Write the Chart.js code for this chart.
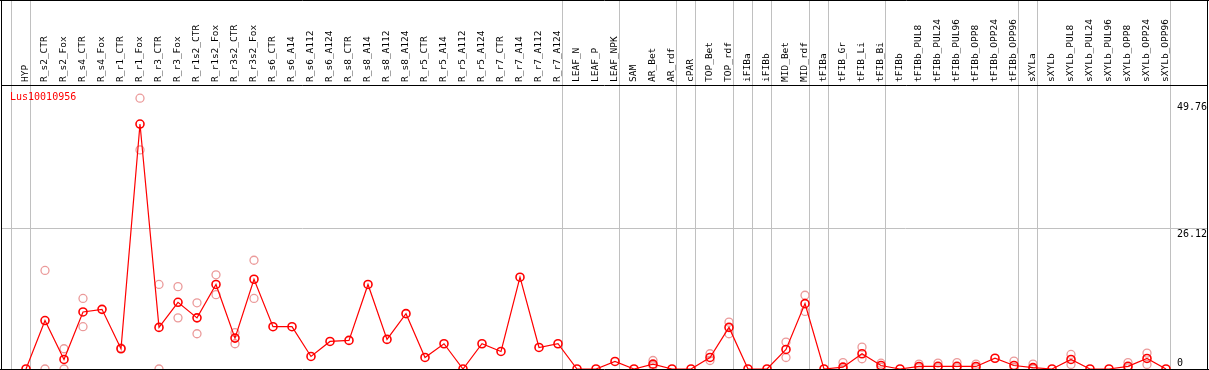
<!DOCTYPE html>
<html>
<head>
<meta charset="utf-8">
<script src="https://cdn.jsdelivr.net/npm/chart.js@4"></script>
<style>
html, body { margin: 0; padding: 0; background: #fff; }
canvas { display: block; }
</style>
</head>
<body>
<canvas id="myChart" width="1209" height="370"></canvas>
<script>
var geneName = "Lus10010956";

var samples = ["HYP",
  "R_s2_CTR", "R_s2_Fox", "R_s4_CTR", "R_s4_Fox", "R_r1_CTR", "R_r1_Fox", "R_r3_CTR", "R_r3_Fox",
  "R_r1s2_CTR", "R_r1s2_Fox", "R_r3s2_CTR", "R_r3s2_Fox",
  "R_s6_CTR", "R_s6_A14", "R_s6_A112", "R_s6_A124", "R_s8_CTR", "R_s8_A14", "R_s8_A112", "R_s8_A124",
  "R_r5_CTR", "R_r5_A14", "R_r5_A112", "R_r5_A124", "R_r7_CTR", "R_r7_A14", "R_r7_A112", "R_r7_A124",
  "LEAF_N", "LEAF_P", "LEAF_NPK", "SAM", "AR_Bet", "AR_rdf", "cPAR", "TOP_Bet", "TOP_rdf",
  "iFIBa", "iFIBb", "MID_Bet", "MID_rdf", "tFIBa", "tFIB_Gr", "tFIB_Li", "tFIB_Bi",
  "tFIBb", "tFIBb_PUL8", "tFIBb_PUL24", "tFIBb_PUL96", "tFIBb_OPP8", "tFIBb_OPP24", "tFIBb_OPP96",
  "sXYLa", "sXYLb", "sXYLb_PUL8", "sXYLb_PUL24", "sXYLb_PUL96", "sXYLb_OPP8", "sXYLb_OPP24", "sXYLb_OPP96"];

// mean expression per sample
var meanExpr = [0,
  9.0, 1.77, 10.6, 11.08, 3.76, 45.5, 7.73, 12.39,
  9.5, 15.7, 5.74, 16.67,
  7.86, 7.86, 2.33, 5.12, 5.31, 15.7, 5.5, 10.28,
  2.14, 4.69, 0, 4.69, 3.26, 17.05, 4.0, 4.69,
  0, 0, 1.4, 0, 0.9, 0, 0, 2.14, 7.73,
  0, 0, 3.63, 12.14, 0, 0.34, 2.83, 0.65,
  0, 0.47, 0.5, 0.5, 0.47, 2.0, 0.65,
  0.25, 0, 1.77, 0, 0, 0.5, 1.96, 0];

// single replicates (null = none shown)
var repHigh = [null,
  18.3, 3.76, 13.1, null, 3.9, 50.3, 15.7, 15.3,
  12.3, 17.5, 6.74, 20.2,
  null, null, null, null, null, null, null, null,
  null, null, null, null, null, null, null, null,
  null, null, null, null, 1.58, null, null, 2.83, 8.7,
  null, null, 5.0, 13.7, null, 1.2, 4.06, 1.08,
  null, 0.9, 1.1, 1.2, 0.9, null, 1.46,
  0.9, null, 2.7, null, null, 1.2, 2.95, null];

var repLow = [null,
  0, 0, 7.86, null, null, 40.7, 0, 9.5,
  6.55, 13.8, 4.69, 13.1,
  null, null, null, null, null, null, null, null,
  null, null, null, null, null, null, null, null,
  null, null, null, null, 0.6, null, null, 1.58, 6.55,
  null, null, 2.14, 10.7, null, 0, 1.9, 0.3,
  null, 0.2, 0.2, 0.2, 0.2, null, 0.3,
  0, null, 0.84, null, null, 0.2, 0.84, null];

// last sample index of each group
var groupEnds = [-1, 0, 28, 31, 34, 35, 37, 38, 39, 41, 42, 45, 52, 53, 60];

var yTicks = [0, 26.12, 49.76];

function toPoints(arr) {
  var out = [];
  for (var i = 0; i < arr.length; i++) {
    if (arr[i] !== null) out.push({x: i, y: arr[i]});
  }
  return out;
}

var xMin = -1.3158, xMax = 62.158;
var labelShift = 0.6;   // rotated labels sit left of their tick, nudge them back
var monoFont = {family: "'DejaVu Sans Mono', monospace", size: 10};
var labelFont = {family: "'DejaVu Sans Mono', monospace", size: 9.5};

function noPad(scale) {
  scale.paddingLeft = 0; scale.paddingRight = 0;
  scale.paddingTop = 0; scale.paddingBottom = 0;
}

var framePlugin = {
  id: 'frame',
  afterDraw: function(chart) {
    var c = chart.ctx;
    var a = chart.chartArea;
    c.save();
    c.strokeStyle = '#000';
    c.lineWidth = 1;
    c.beginPath();
    c.moveTo(1.5, 0); c.lineTo(1.5, 370);
    c.moveTo(1207.5, 0); c.lineTo(1207.5, 370);
    c.moveTo(0, 0.5); c.lineTo(1209, 0.5);
    c.moveTo(0, 369.5); c.lineTo(1209, 369.5);
    c.stroke();
    c.fillStyle = '#ff0000';
    c.font = "10px 'DejaVu Sans Mono', monospace";
    c.textBaseline = 'middle';
    c.fillText(geneName, a.left + 9, a.top + 12);
    c.restore();
  }
};

var ctx = document.getElementById("myChart");
var myChart = new Chart(ctx, {
  type: 'line',
  data: {
    datasets: [
      {
        data: toPoints(meanExpr),
        xAxisID: 'x',
        yAxisID: 'y',
        borderColor: '#ff0000',
        borderWidth: 1.2,
        pointRadius: 4,
        pointBorderWidth: 1.6,
        pointBorderColor: '#ff0000',
        pointBackgroundColor: 'rgba(0,0,0,0)',
        fill: false,
        tension: 0
      },
      {
        data: toPoints(repHigh),
        xAxisID: 'x',
        yAxisID: 'y',
        showLine: false,
        pointRadius: 4,
        pointBorderWidth: 1.3,
        pointBorderColor: '#eb9a9a',
        pointBackgroundColor: 'rgba(0,0,0,0)'
      },
      {
        data: toPoints(repLow),
        xAxisID: 'x',
        yAxisID: 'y',
        showLine: false,
        pointRadius: 4,
        pointBorderWidth: 1.3,
        pointBorderColor: '#eb9a9a',
        pointBackgroundColor: 'rgba(0,0,0,0)'
      }
    ]
  },
  options: {
    responsive: false,
    animation: false,
    devicePixelRatio: 1,
    layout: {autoPadding: false, padding: {left: 1, right: 2, top: 0, bottom: 1}},
    plugins: {legend: {display: false}, tooltip: {enabled: false}},
    scales: {
      xl: {
        type: 'linear',
        position: 'top',
        weight: 10,
        min: xMin - labelShift,
        max: xMax - labelShift,
        afterBuildTicks: function(scale) {
          scale.ticks = samples.map(function(s, i) { return {value: i}; });
        },
        afterFit: function(scale) { scale.height = 85; noPad(scale); },
        ticks: {
          autoSkip: false,
          minRotation: 90,
          maxRotation: 90,
          padding: 3,
          color: '#000',
          font: labelFont,
          callback: function(v) { return samples[v]; }
        },
        grid: {color: 'rgba(0,0,0,0)', drawTicks: false},
        border: {display: true, color: '#000', width: 1}
      },
      x: {
        type: 'linear',
        position: 'top',
        weight: 0,
        min: xMin,
        max: xMax,
        afterBuildTicks: function(scale) {
          scale.ticks = groupEnds.map(function(g) { return {value: g + 0.26}; });
        },
        afterFit: function(scale) { scale.height = 0; noPad(scale); },
        ticks: {display: false},
        grid: {color: '#c0c0c0', lineWidth: 1, drawTicks: true, tickLength: 85},
        border: {display: false}
      },
      y: {
        type: 'linear',
        position: 'right',
        min: 0,
        max: 52.75,
        afterBuildTicks: function(scale) {
          scale.ticks = yTicks.map(function(v) { return {value: v}; });
        },
        afterFit: function(scale) { scale.width = 0; noPad(scale); },
        ticks: {
          mirror: true,
          crossAlign: 'far',
          padding: 0,
          color: '#000',
          font: monoFont,
          callback: function(v) { return v === 0 ? ['0', ''] : ['', String(v)]; }
        },
        grid: {
          drawTicks: false,
          color: function(c) { return c.tick && c.tick.value === 26.12 ? '#c0c0c0' : 'rgba(0,0,0,0)'; }
        },
        border: {display: false}
      }
    }
  },
  plugins: [framePlugin]
});
</script>
</body>
</html>
